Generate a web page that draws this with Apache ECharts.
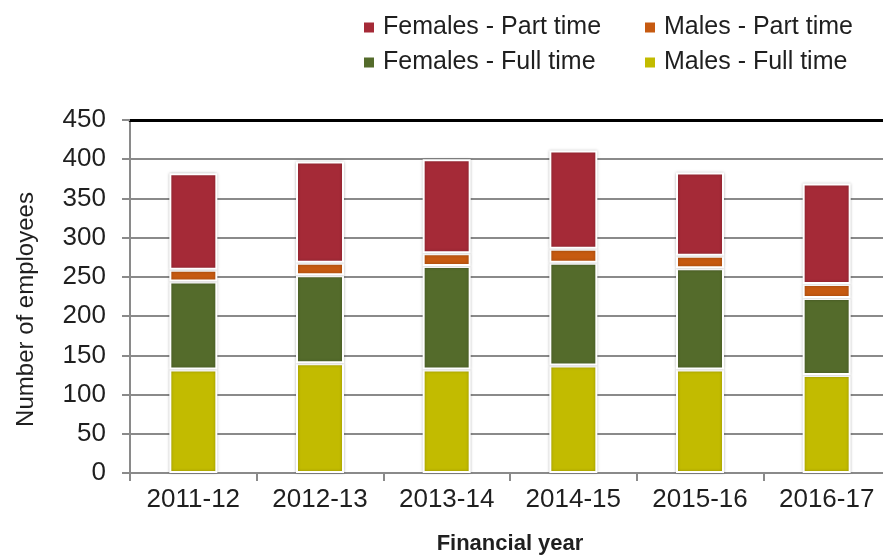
<!DOCTYPE html>
<html>
<head>
<meta charset="utf-8">
<script src="https://cdn.jsdelivr.net/npm/echarts@6/dist/echarts.min.js"></script>
<style>
  html, body { margin: 0; padding: 0; background: #fff; }
  #chart { width: 883px; height: 556px; }
</style>
</head>
<body>
<div id="chart"></div>
<script>
var years = ['2011-12', '2012-13', '2013-14', '2014-15', '2015-16', '2016-17'];
var malesFull = [132, 140, 132, 137, 132, 125];
var femalesFull = [112, 112, 132, 131, 129, 98];
var malesPart = [15, 16, 16, 18, 16, 18];
var femalesPart = [123, 129, 120, 125, 106, 128];
var yTicks = { min: 0, max: 450, interval: 50 };

var font = 'Liberation Sans, Arial, sans-serif';
var textColor = '#1f1f1f';
var gridGray = '#8a8a8a';

var chart = echarts.init(document.getElementById('chart'));

// legend entry helper - one legend per item so columns line up
function legendItem(name, left, top) {
  return {
    data: [name],
    left: left,
    top: top,
    padding: 0,
    icon: 'rect',
    itemWidth: 12,
    itemHeight: 12,
    selectedMode: false,
    textStyle: {
      fontFamily: font,
      fontSize: 25,
      color: textColor,
      padding: [0, 0, 0, 3]
    }
  };
}

function barSeries(name, data, color) {
  return {
    name: name,
    type: 'bar',
    stack: 'total',
    barWidth: 48,
    data: data,
    itemStyle: {
      color: color,
      borderColor: '#ffffff',
      borderWidth: 2,
      shadowBlur: 3,
      shadowColor: 'rgba(0,0,0,0.25)'
    }
  };
}

var option = {
  animation: false,
  textStyle: { fontFamily: font },
  legend: [
    legendItem('Females - Part time', 362, 15),
    legendItem('Males - Part time', 643, 15),
    legendItem('Females - Full time', 362, 50),
    legendItem('Males - Full time', 643, 50)
  ],
  grid: {
    left: 130,
    right: -7,
    top: 120,
    bottom: 83,
    containLabel: false,
    outerBoundsMode: 'none'
  },
  xAxis: [{
    type: 'category',
    data: years,
    name: 'Financial year',
    nameLocation: 'middle',
    nameGap: 60,
    nameTextStyle: {
      fontFamily: font,
      fontSize: 22,
      fontWeight: 'bold',
      color: textColor
    },
    axisLine: { lineStyle: { color: gridGray, width: 2 } },
    axisTick: { show: true, length: 8, lineStyle: { color: gridGray, width: 2 } },
    axisLabel: {
      fontFamily: font,
      fontSize: 26,
      color: textColor,
      margin: 14
    }
  }, {
    // black frame line along the top of the plot
    type: 'category',
    data: years,
    position: 'top',
    axisLine: { lineStyle: { color: '#000000', width: 3 } },
    axisTick: { show: false },
    axisLabel: { show: false }
  }],
  yAxis: {
    type: 'value',
    min: yTicks.min,
    max: yTicks.max,
    interval: yTicks.interval,
    name: 'Number of employees',
    nameLocation: 'middle',
    nameGap: 92,
    nameTextStyle: {
      fontFamily: font,
      fontSize: 24,
      color: textColor,
      padding: [0, 0, 0, -26]
    },
    axisLine: { show: true, lineStyle: { color: gridGray, width: 2 } },
    axisTick: { show: true, length: 8, lineStyle: { color: gridGray, width: 2 } },
    axisLabel: {
      fontFamily: font,
      fontSize: 26,
      color: textColor,
      margin: 24
    },
    splitLine: { lineStyle: { color: gridGray, width: 2 } }
  },
  series: [
    barSeries('Males - Full time', malesFull, '#c2bb00'),
    barSeries('Females - Full time', femalesFull, '#546b2b'),
    barSeries('Males - Part time', malesPart, '#c65a11'),
    barSeries('Females - Part time', femalesPart, '#a52a37')
  ]
};

chart.setOption(option);
</script>
</body>
</html>
